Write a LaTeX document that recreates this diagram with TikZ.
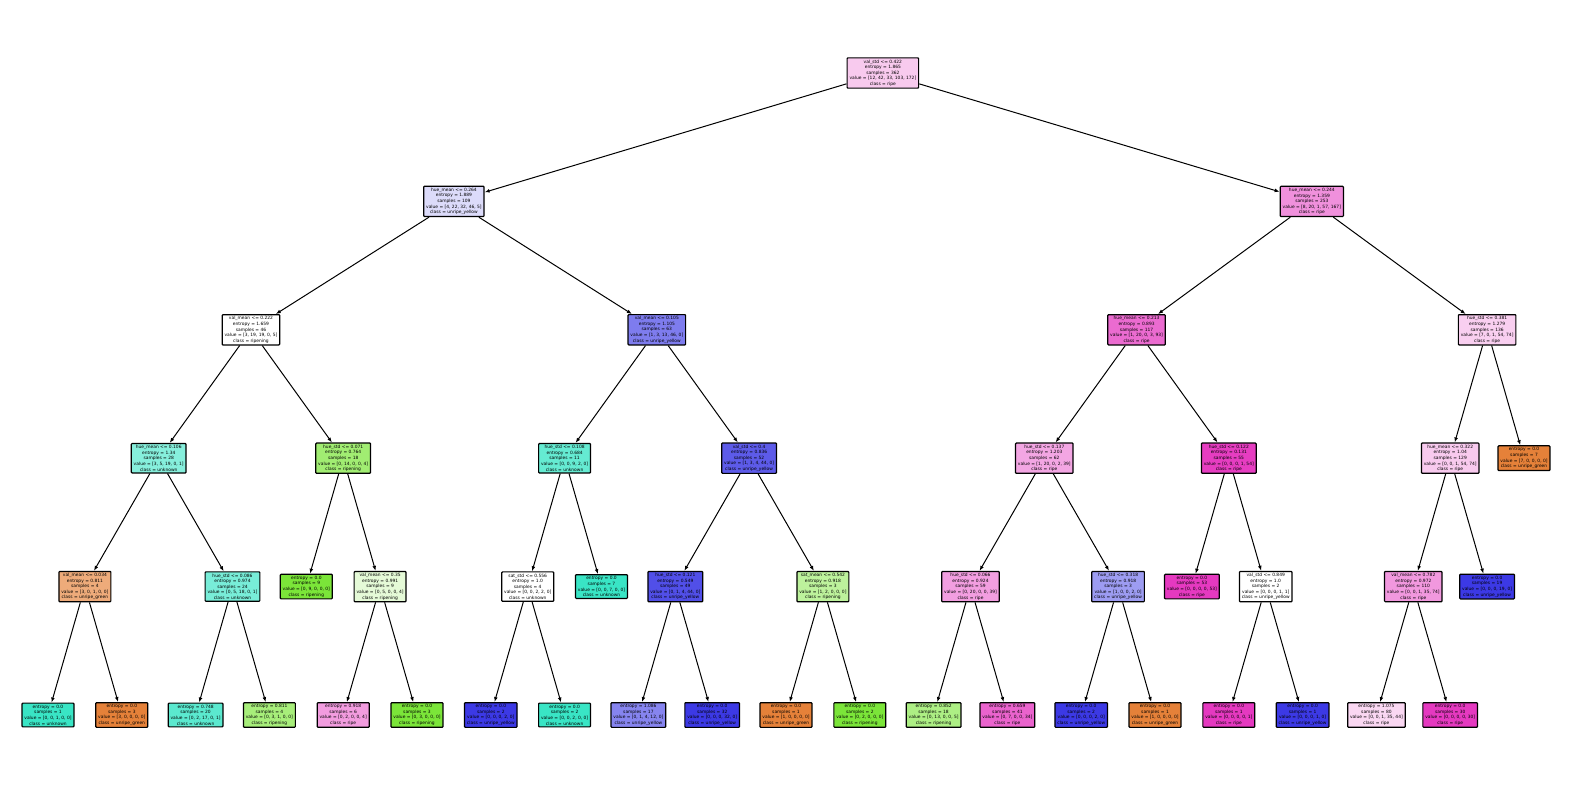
\documentclass[tikz,border=0pt]{standalone}
\usepackage{fontspec}
\setmainfont{DejaVu Sans}
\usepackage{xcolor}
\usetikzlibrary{arrows.meta}

% class colours
\definecolor{unripegreen}{HTML}{E58139}
\definecolor{ripening}{HTML}{7BE539}
\definecolor{unknown}{HTML}{39E5C5}
\definecolor{unripeyellow}{HTML}{3C39E5}
\definecolor{ripe}{HTML}{E539C0}

\begin{document}
\begin{tikzpicture}[
		x=73.8pt, y=-128.4pt,
		treebox/.style={
			draw,
			line width=1.2pt,
			rounded corners=0.8pt,
			align=center,
			inner xsep=2.4pt,
			inner ysep=1.8pt,
			font=\fontsize{4.4}{5.6}\selectfont
		},
		arrow/.style={-{Latex[length=5pt,width=3.8pt]}, line width=1pt}
	]
		\useasboundingbox (-0.6504,-0.5685) rectangle (20.6233,5.5841);

		% depth 0 and 1
		\node[treebox, fill=ripe!27!white] (root) at (11.3125,0) {val\_std <= 0.422\\entropy = 1.865\\samples = 362\\value = [12, 42, 33, 103, 172]\\class = ripe};
		\node[treebox, fill=unripeyellow!18!white] (nL) at (5.5,1) {hue\_mean <= 0.264\\entropy = 1.889\\samples = 109\\value = [4, 22, 32, 46, 5]\\class = unripe\_yellow};
		\node[treebox, fill=ripe!56!white] (nR) at (17.125,1) {hue\_mean <= 0.244\\entropy = 1.359\\samples = 253\\value = [8, 20, 1, 57, 167]\\class = ripe};

		% depth 2
		\node[treebox, fill=white] (nLL) at (2.75,2) {val\_mean <= 0.222\\entropy = 1.659\\samples = 46\\value = [3, 19, 19, 0, 5]\\class = ripening};
		\node[treebox, fill=unripeyellow!66!white] (nLR) at (8.25,2) {val\_mean <= 0.105\\entropy = 1.105\\samples = 63\\value = [1, 3, 13, 46, 0]\\class = unripe\_yellow};
		\node[treebox, fill=ripe!75!white] (nRL) at (14.75,2) {hue\_mean <= 0.213\\entropy = 0.893\\samples = 117\\value = [1, 20, 0, 3, 93]\\class = ripe};
		\node[treebox, fill=ripe!24!white] (nRR) at (19.5,2) {hue\_std <= 0.381\\entropy = 1.279\\samples = 136\\value = [7, 0, 1, 54, 74]\\class = ripe};

		% depth 3
		\node[treebox, fill=unknown!61!white] (nLLL) at (1.5,3) {hue\_mean <= 0.106\\entropy = 1.34\\samples = 28\\value = [3, 5, 19, 0, 1]\\class = unknown};
		\node[treebox, fill=ripening!71!white] (nLLR) at (4,3) {hue\_std <= 0.071\\entropy = 0.764\\samples = 18\\value = [0, 14, 0, 0, 4]\\class = ripening};
		\node[treebox, fill=unknown!78!white] (nLRL) at (7,3) {hue\_std <= 0.108\\entropy = 0.684\\samples = 11\\value = [0, 0, 9, 2, 0]\\class = unknown};
		\node[treebox, fill=unripeyellow!83!white] (nLRR) at (9.5,3) {val\_std <= 0.4\\entropy = 0.836\\samples = 52\\value = [1, 3, 4, 44, 0]\\class = unripe\_yellow};
		\node[treebox, fill=ripe!45!white] (nRLL) at (13.5,3) {hue\_std <= 0.137\\entropy = 1.203\\samples = 62\\value = [1, 20, 0, 2, 39]\\class = ripe};
		\node[treebox, fill=ripe!98!white] (nRLR) at (16,3) {hue\_std <= 0.122\\entropy = 0.131\\samples = 55\\value = [0, 0, 0, 1, 54]\\class = ripe};
		\node[treebox, fill=ripe!27!white] (nRRL) at (19,3) {hue\_mean <= 0.322\\entropy = 1.04\\samples = 129\\value = [0, 0, 1, 54, 74]\\class = ripe};
		\node[treebox, fill=unripegreen] (nRRR) at (20,3) {entropy = 0.0\\samples = 7\\value = [7, 0, 0, 0, 0]\\class = unripe\_green};

		% depth 4
		\node[treebox, fill=unripegreen!67!white] (nLLLL) at (0.5,4) {val\_mean <= 0.034\\entropy = 0.811\\samples = 4\\value = [3, 0, 1, 0, 0]\\class = unripe\_green};
		\node[treebox, fill=unknown!68!white] (nLLLR) at (2.5,4) {hue\_std <= 0.086\\entropy = 0.974\\samples = 24\\value = [0, 5, 18, 0, 1]\\class = unknown};
		\node[treebox, fill=ripening] (nLLRL) at (3.5,4) {entropy = 0.0\\samples = 9\\value = [0, 9, 0, 0, 0]\\class = ripening};
		\node[treebox, fill=ripening!20!white] (nLLRR) at (4.5,4) {val\_mean <= 0.35\\entropy = 0.991\\samples = 9\\value = [0, 5, 0, 0, 4]\\class = ripening};
		\node[treebox, fill=white] (nLRLL) at (6.5,4) {sat\_std <= 0.556\\entropy = 1.0\\samples = 4\\value = [0, 0, 2, 2, 0]\\class = unknown};
		\node[treebox, fill=unknown] (nLRLR) at (7.5,4) {entropy = 0.0\\samples = 7\\value = [0, 0, 7, 0, 0]\\class = unknown};
		\node[treebox, fill=unripeyellow!89!white] (nLRRL) at (8.5,4) {hue\_std <= 0.121\\entropy = 0.549\\samples = 49\\value = [0, 1, 4, 44, 0]\\class = unripe\_yellow};
		\node[treebox, fill=ripening!50!white] (nLRRR) at (10.5,4) {sat\_mean <= 0.542\\entropy = 0.918\\samples = 3\\value = [1, 2, 0, 0, 0]\\class = ripening};
		\node[treebox, fill=ripe!49!white] (nRLLL) at (12.5,4) {hue\_std <= 0.066\\entropy = 0.924\\samples = 59\\value = [0, 20, 0, 0, 39]\\class = ripe};
		\node[treebox, fill=unripeyellow!50!white] (nRLLR) at (14.5,4) {hue\_std <= 0.318\\entropy = 0.918\\samples = 3\\value = [1, 0, 0, 2, 0]\\class = unripe\_yellow};
		\node[treebox, fill=ripe] (nRLRL) at (15.5,4) {entropy = 0.0\\samples = 53\\value = [0, 0, 0, 0, 53]\\class = ripe};
		\node[treebox, fill=white] (nRLRR) at (16.5,4) {val\_std <= 0.849\\entropy = 1.0\\samples = 2\\value = [0, 0, 0, 1, 1]\\class = unripe\_yellow};
		\node[treebox, fill=ripe!52!white] (nRRLL) at (18.5,4) {val\_mean <= 0.782\\entropy = 0.972\\samples = 110\\value = [0, 0, 1, 35, 74]\\class = ripe};
		\node[treebox, fill=unripeyellow] (nRRLR) at (19.5,4) {entropy = 0.0\\samples = 19\\value = [0, 0, 0, 19, 0]\\class = unripe\_yellow};

		% depth 5 (leaves)
		\node[treebox, fill=unknown] (nLLLLL) at (0,5) {entropy = 0.0\\samples = 1\\value = [0, 0, 1, 0, 0]\\class = unknown};
		\node[treebox, fill=unripegreen] (nLLLLR) at (1,5) {entropy = 0.0\\samples = 3\\value = [3, 0, 0, 0, 0]\\class = unripe\_green};
		\node[treebox, fill=unknown!83!white] (nLLLRL) at (2,5) {entropy = 0.748\\samples = 20\\value = [0, 2, 17, 0, 1]\\class = unknown};
		\node[treebox, fill=ripening!67!white] (nLLLRR) at (3,5) {entropy = 0.811\\samples = 4\\value = [0, 3, 1, 0, 0]\\class = ripening};
		\node[treebox, fill=ripe!50!white] (nLLRRL) at (4,5) {entropy = 0.918\\samples = 6\\value = [0, 2, 0, 0, 4]\\class = ripe};
		\node[treebox, fill=ripening] (nLLRRR) at (5,5) {entropy = 0.0\\samples = 3\\value = [0, 3, 0, 0, 0]\\class = ripening};
		\node[treebox, fill=unripeyellow] (nLRLLL) at (6,5) {entropy = 0.0\\samples = 2\\value = [0, 0, 0, 2, 0]\\class = unripe\_yellow};
		\node[treebox, fill=unknown] (nLRLLR) at (7,5) {entropy = 0.0\\samples = 2\\value = [0, 0, 2, 0, 0]\\class = unknown};
		\node[treebox, fill=unripeyellow!62!white] (nLRRLL) at (8,5) {entropy = 1.086\\samples = 17\\value = [0, 1, 4, 12, 0]\\class = unripe\_yellow};
		\node[treebox, fill=unripeyellow] (nLRRLR) at (9,5) {entropy = 0.0\\samples = 32\\value = [0, 0, 0, 32, 0]\\class = unripe\_yellow};
		\node[treebox, fill=unripegreen] (nLRRRL) at (10,5) {entropy = 0.0\\samples = 1\\value = [1, 0, 0, 0, 0]\\class = unripe\_green};
		\node[treebox, fill=ripening] (nLRRRR) at (11,5) {entropy = 0.0\\samples = 2\\value = [0, 2, 0, 0, 0]\\class = ripening};
		\node[treebox, fill=ripening!62!white] (nRLLLL) at (12,5) {entropy = 0.852\\samples = 18\\value = [0, 13, 0, 0, 5]\\class = ripening};
		\node[treebox, fill=ripe!79!white] (nRLLLR) at (13,5) {entropy = 0.659\\samples = 41\\value = [0, 7, 0, 0, 34]\\class = ripe};
		\node[treebox, fill=unripeyellow] (nRLLRL) at (14,5) {entropy = 0.0\\samples = 2\\value = [0, 0, 0, 2, 0]\\class = unripe\_yellow};
		\node[treebox, fill=unripegreen] (nRLLRR) at (15,5) {entropy = 0.0\\samples = 1\\value = [1, 0, 0, 0, 0]\\class = unripe\_green};
		\node[treebox, fill=ripe] (nRLRRL) at (16,5) {entropy = 0.0\\samples = 1\\value = [0, 0, 0, 0, 1]\\class = ripe};
		\node[treebox, fill=unripeyellow] (nRLRRR) at (17,5) {entropy = 0.0\\samples = 1\\value = [0, 0, 0, 1, 0]\\class = unripe\_yellow};
		\node[treebox, fill=ripe!20!white] (nRRLLL) at (18,5) {entropy = 1.075\\samples = 80\\value = [0, 0, 1, 35, 44]\\class = ripe};
		\node[treebox, fill=ripe] (nRRLLR) at (19,5) {entropy = 0.0\\samples = 30\\value = [0, 0, 0, 0, 30]\\class = ripe};

		\draw[arrow] (root) -- (nL);
		\draw[arrow] (root) -- (nR);
		\draw[arrow] (nL) -- (nLL);
		\draw[arrow] (nL) -- (nLR);
		\draw[arrow] (nR) -- (nRL);
		\draw[arrow] (nR) -- (nRR);
		\draw[arrow] (nLL) -- (nLLL);
		\draw[arrow] (nLL) -- (nLLR);
		\draw[arrow] (nLR) -- (nLRL);
		\draw[arrow] (nLR) -- (nLRR);
		\draw[arrow] (nRL) -- (nRLL);
		\draw[arrow] (nRL) -- (nRLR);
		\draw[arrow] (nRR) -- (nRRL);
		\draw[arrow] (nRR) -- (nRRR);
		\draw[arrow] (nLLL) -- (nLLLL);
		\draw[arrow] (nLLL) -- (nLLLR);
		\draw[arrow] (nLLR) -- (nLLRL);
		\draw[arrow] (nLLR) -- (nLLRR);
		\draw[arrow] (nLRL) -- (nLRLL);
		\draw[arrow] (nLRL) -- (nLRLR);
		\draw[arrow] (nLRR) -- (nLRRL);
		\draw[arrow] (nLRR) -- (nLRRR);
		\draw[arrow] (nRLL) -- (nRLLL);
		\draw[arrow] (nRLL) -- (nRLLR);
		\draw[arrow] (nRLR) -- (nRLRL);
		\draw[arrow] (nRLR) -- (nRLRR);
		\draw[arrow] (nRRL) -- (nRRLL);
		\draw[arrow] (nRRL) -- (nRRLR);
		\draw[arrow] (nLLLL) -- (nLLLLL);
		\draw[arrow] (nLLLL) -- (nLLLLR);
		\draw[arrow] (nLLLR) -- (nLLLRL);
		\draw[arrow] (nLLLR) -- (nLLLRR);
		\draw[arrow] (nLLRR) -- (nLLRRL);
		\draw[arrow] (nLLRR) -- (nLLRRR);
		\draw[arrow] (nLRLL) -- (nLRLLL);
		\draw[arrow] (nLRLL) -- (nLRLLR);
		\draw[arrow] (nLRRL) -- (nLRRLL);
		\draw[arrow] (nLRRL) -- (nLRRLR);
		\draw[arrow] (nLRRR) -- (nLRRRL);
		\draw[arrow] (nLRRR) -- (nLRRRR);
		\draw[arrow] (nRLLL) -- (nRLLLL);
		\draw[arrow] (nRLLL) -- (nRLLLR);
		\draw[arrow] (nRLLR) -- (nRLLRL);
		\draw[arrow] (nRLLR) -- (nRLLRR);
		\draw[arrow] (nRLRR) -- (nRLRRL);
		\draw[arrow] (nRLRR) -- (nRLRRR);
		\draw[arrow] (nRRLL) -- (nRRLLL);
		\draw[arrow] (nRRLL) -- (nRRLLR);
	\end{tikzpicture}
\end{document}
